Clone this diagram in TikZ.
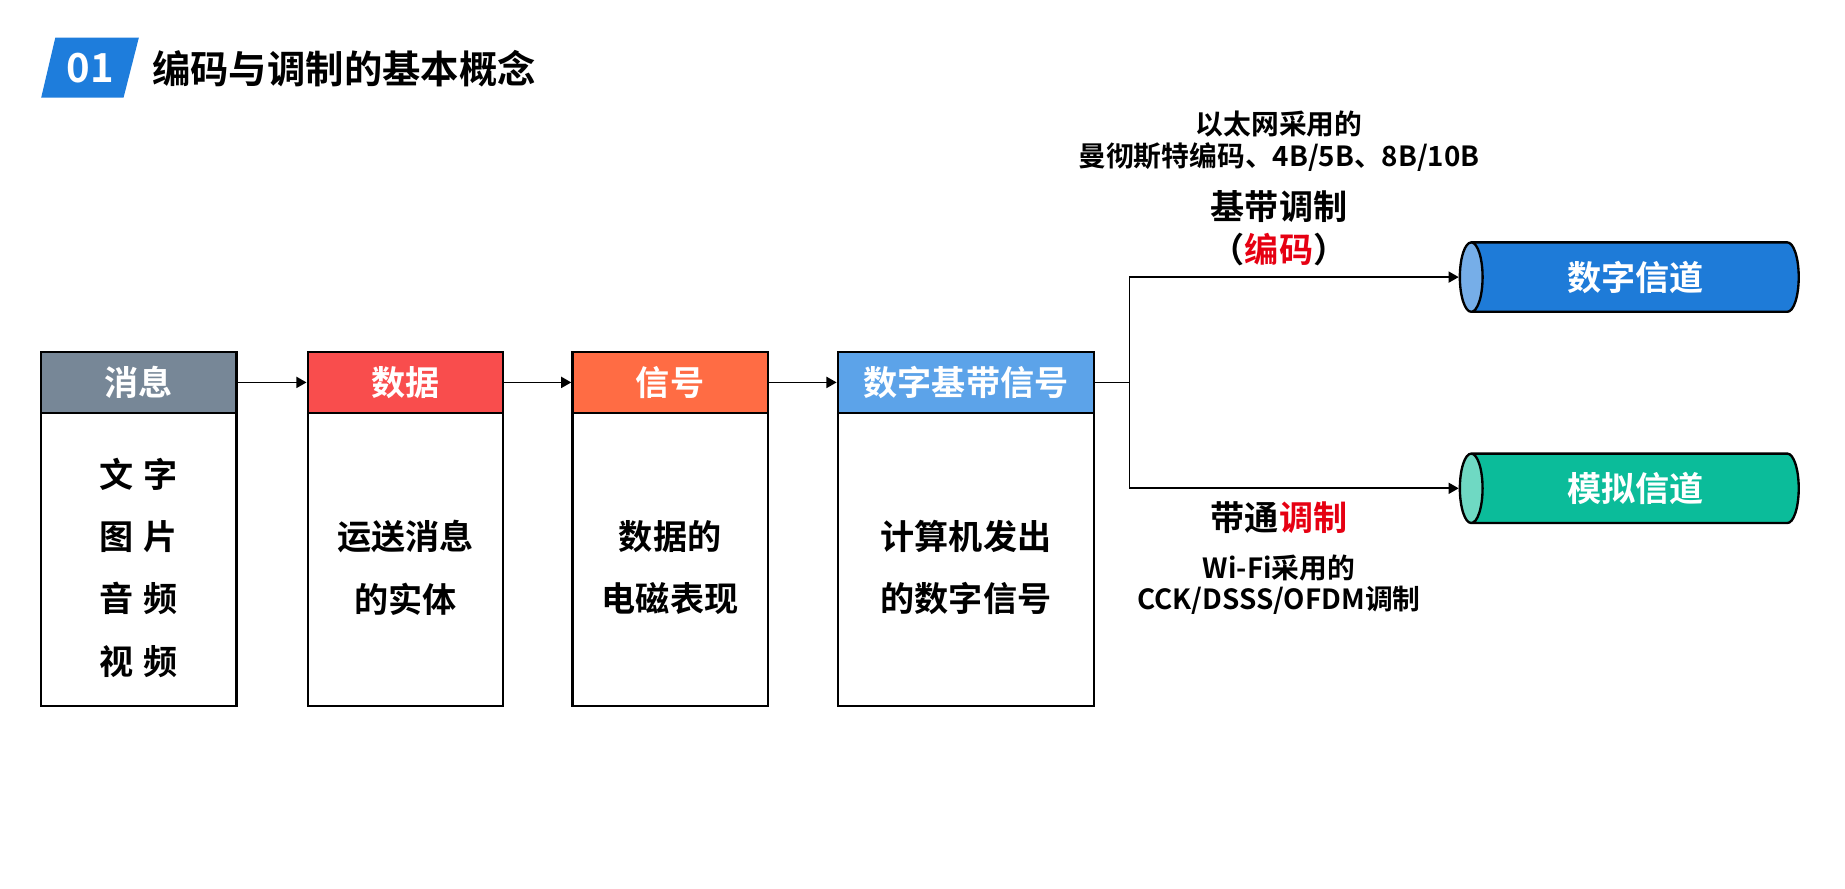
\documentclass[tikz,border=0pt]{standalone}
\usepackage{fontspec}
\setmainfont{Noto Sans CJK SC}[BoldFont={Noto Sans CJK SC Bold}]
\usetikzlibrary{arrows.meta,shapes.geometric}
\definecolor{titleblue}{HTML}{1E7DDC}
\definecolor{hgray}{HTML}{778797}
\definecolor{hred}{HTML}{F94D4D}
\definecolor{horange}{HTML}{FF6C44}
\definecolor{hblue}{HTML}{5CA3E9}
\definecolor{cblue}{HTML}{1E7BD8}
\definecolor{cbluel}{HTML}{76AEE8}
\definecolor{cgreen}{HTML}{0BBC9A}
\definecolor{cgreenl}{HTML}{6FD9C3}
\definecolor{redtxt}{HTML}{E60012}
\tikzset{
  hdr/.style={draw=black, line width=1pt, minimum width=83pt, minimum height=26pt, inner sep=0pt,
    text=white, font=\bfseries\fontsize{14.5pt}{16pt}\selectfont},
  bodybox/.style={draw=black, line width=1pt, minimum width=83pt, minimum height=124.5pt, inner sep=0pt},
  bodytxt/.style={align=center, font=\bfseries\fontsize{14.5pt}{26.5pt}\selectfont, inner sep=0pt},
  lbl/.style={align=center, inner sep=0pt, font=\bfseries\fontsize{11.8pt}{13.5pt}\selectfont},
  biglbl/.style={align=center, inner sep=0pt, font=\bfseries\fontsize{14.5pt}{18pt}\selectfont},
  conn/.style={line width=0.75pt},
  arr/.style={line width=0.75pt, -{Triangle[length=4.3pt,width=4.7pt]}},
  chan/.style={cylinder, shape border rotate=180, draw=black, line width=1pt, aspect=0.7,
    minimum width=29.5pt, minimum height=144pt, inner sep=0pt, cylinder uses custom fill,
    text=white, font=\bfseries\fontsize{14.5pt}{16pt}\selectfont},
}
\begin{document}
\begin{tikzpicture}[x=0.5pt, y=-0.5pt]
\useasboundingbox (0,0) rectangle (1568,754.7);
% title
\fill[titleblue] (47,32) -- (118,32) -- (105,83) -- (35,83) -- cycle;
\node[text=white, font=\bfseries\fontsize{17pt}{18pt}\selectfont, inner sep=0pt] (num) at (77,58) {01};
\node[anchor=west, inner sep=0pt, font=\bfseries\fontsize{16.3pt}{18pt}\selectfont] (title) at (129,58) {编码与调制的基本概念};
% headers
\node[hdr, fill=hgray] (h1) at (118,325) {消息};
\node[hdr, fill=hred] (h2) at (344.5,325) {数据};
\node[hdr, fill=horange] (h3) at (569.5,325) {信号};
\node[hdr, fill=hblue, minimum width=109pt] (h4) at (821,325) {数字基带信号};
% bodies
\node[bodybox] (b1) at (118,475.5) {};
\node[bodybox] (b2) at (344.5,475.5) {};
\node[bodybox] (b3) at (569.5,475.5) {};
\node[bodybox, minimum width=109pt] (b4) at (821,475.5) {};
\node[bodytxt] (t1) at (118,482.5) {文\hspace{0.3em}字\\图\hspace{0.3em}片\\音\hspace{0.3em}频\\视\hspace{0.3em}频};
\node[bodytxt] (t2) at (344.5,482.5) {运送消息\\的实体};
\node[bodytxt] (t3) at (569.5,482.5) {数据的\\电磁表现};
\node[bodytxt] (t4) at (821,482.5) {计算机发出\\的数字信号};
% arrows between boxes
\draw[arr] (h1.east) -- (h2.west);
\draw[arr] (h2.east) -- (h3.west);
\draw[arr] (h3.east) -- (h4.west);
% channels
\node[chan, cylinder body fill=cblue, cylinder end fill=cbluel] (c1) at (1390,235.5) {数字信道};
\node[chan, cylinder body fill=cgreen, cylinder end fill=cgreenl] (c2) at (1390,415) {模拟信道};
\coordinate (br) at (960,325);
\draw[conn] (h4.east) -- (br);
\draw[arr] (br) |- (c1.west);
\draw[arr] (br) |- (c2.west);
% labels
\node[lbl] (l1) at (1087,120) {以太网采用的\\曼彻斯特编码、4B/5B、8B/10B};
\node[biglbl] (l2) at (1087,194) {基带调制\\（{\color{redtxt}编码}）};
\node[biglbl] (l3) at (1087,440) {带通{\color{redtxt}调制}};
\node[lbl] (l4) at (1087,497) {Wi-Fi采用的\\CCK/DSSS/OFDM调制};
\end{tikzpicture}
\end{document}
